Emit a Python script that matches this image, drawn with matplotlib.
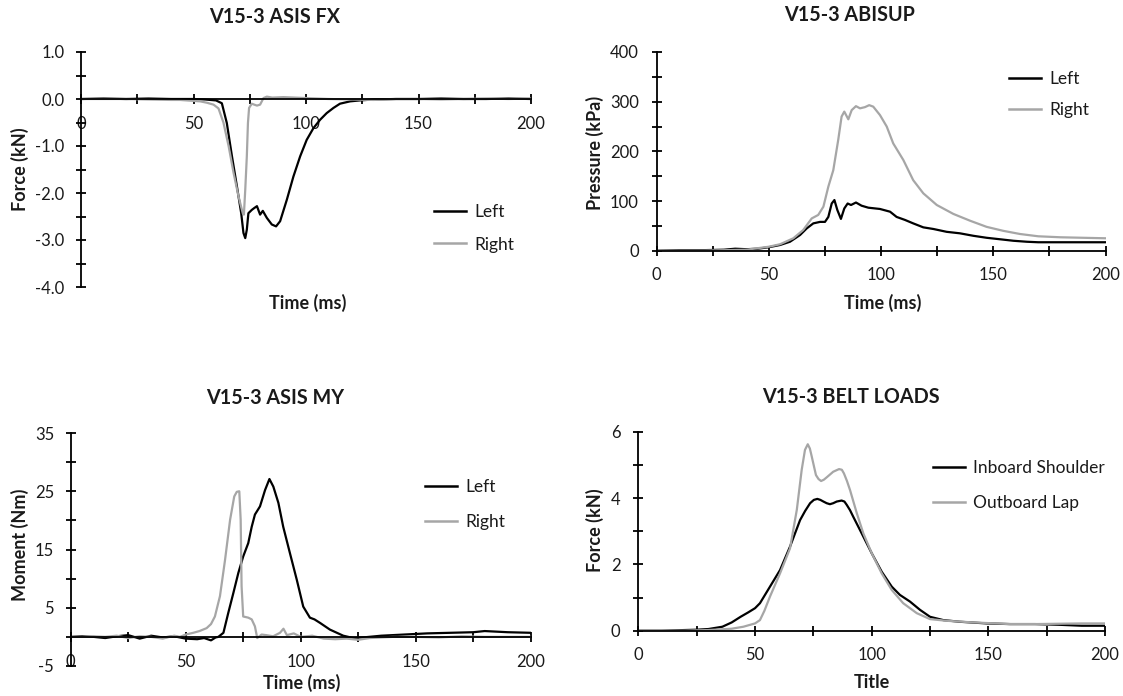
import matplotlib
matplotlib.use("Agg")
import matplotlib.pyplot as plt
from matplotlib.lines import Line2D

plt.rcParams['font.family'] = ['Lato', 'DejaVu Sans']

W, H = 1123, 696
BLACK = "#000000"
GRAY = "#A6A6A6"

# ---------------- data ----------------
# ASIS FX (kN)
fx_left_t = [0, 10, 20, 30, 40, 50, 55, 60, 62.6, 64.8, 67.1, 69.3, 71.2, 72.2, 73, 73.7, 74.4, 75.9, 77,
             78.2, 79.6, 80.8, 82.6, 84.8, 86.7, 88.5, 91.5, 94.4, 97.4, 100.3, 103.3, 106.3, 109.2, 112.2,
             115.1, 119.6, 124, 130, 140, 150, 160, 170, 180, 190, 200]
fx_left = [0, 0.01, 0, 0.01, 0, 0, -0.01, -0.03, -0.09, -0.51, -1.22, -1.86, -2.43, -2.85, -2.96, -2.78, -2.43,
           -2.36, -2.32, -2.28, -2.46, -2.38, -2.53, -2.67, -2.71, -2.60, -2.14, -1.65, -1.22, -0.87, -0.62,
           -0.44, -0.30, -0.19, -0.10, -0.05, -0.03, -0.01, 0, 0, 0.01, 0, 0, 0.01, 0]
fx_right_t = [0, 10, 20, 30, 40, 44, 50, 53, 56, 58.9, 61.1, 63.3, 65.6, 67.8, 70, 71.9, 72.4, 73, 73.7, 74.2,
              74.7, 75.9, 77, 78.2, 79.6, 81.1, 82.6, 85, 90, 95, 100, 110, 120, 130, 140, 150, 160, 170,
              180, 190, 200]
fx_right = [0, 0, 0, -0.01, -0.02, -0.02, -0.04, -0.05, -0.08, -0.12, -0.2, -0.5, -1.0, -1.57, -2.07, -2.43,
            -2.46, -1.93, -1.22, -0.51, -0.19, -0.1, -0.12, -0.14, -0.12, 0.02, 0.05, 0.03, 0.04, 0.03, 0.02,
            0, -0.01, -0.02, 0, 0, -0.01, 0, 0.01, 0, 0.01]

# ABISUP pressure (kPa)
ab_left_t = [0, 10, 20, 30, 35, 40, 45, 50, 55, 59.4, 63.9, 66.9, 69.8, 72.8, 75, 76.5, 78, 79.2, 80.5, 82.1,
             83.6, 85.1, 86.6, 88.8, 91.3, 94.3, 99.5, 104, 106.9, 110.6, 114.3, 118.8, 123.3, 129.2, 135.1,
             141.1, 147, 153, 158.9, 165, 170, 180, 190, 200]
ab_left = [0, 1, 1, 2, 4, 3, 4, 7, 11.5, 18, 31.6, 45, 55, 58, 58, 68, 95, 102, 82, 64, 85, 95, 92, 97, 90.6,
           86.6, 84, 78.5, 68, 62, 55, 47, 43.7, 38, 35, 30, 26, 23, 20, 18, 17, 17, 17, 17]
ab_right_t = [0, 10, 20, 30, 40, 50, 55, 60.9, 65.3, 69.1, 72, 74.3, 76.5, 78.7, 80.9, 82.4, 83.6, 85.4, 86.9,
              88.8, 90.6, 92.8, 94.7, 96.5, 99.5, 102.5, 105.4, 109.9, 114.3, 118.8, 124.8, 132.2, 139.6, 147,
              154.4, 161.9, 170, 180, 190, 200]
ab_right = [0, 0, 0, 1, 2, 8, 13, 25, 41.6, 65, 72, 88.6, 129, 162, 223, 270, 280, 264.5, 283, 291, 286.6, 289,
            293, 290, 273, 250, 216, 182.6, 142, 115.5, 92, 74, 60.4, 48, 40, 33.6, 29, 27, 26, 25]

# ASIS MY moment (Nm)
my_left_t = [0, 5, 10, 15, 20, 25, 30, 35, 40, 45, 50, 55, 58, 61, 63, 64.2, 66.4, 68.5, 70.7, 72.9, 75, 77.2,
             78.7, 80.1, 82.3, 84.5, 86.4, 88.1, 90.3, 92.4, 95.3, 98.3, 101.1, 104, 106, 108.4, 112.7, 118.5,
             122.9, 127, 135, 145, 155, 165, 175, 180, 190, 200]
my_left = [0, 0.1, 0, -0.2, 0.1, 0.3, -0.3, 0.2, -0.1, 0.1, -0.3, -0.4, -0.2, -0.6, -0.1, 0, 0.7, 4.1, 7.5, 11,
           13.8, 16.1, 18.9, 21, 22.4, 25.2, 27.1, 25.8, 23, 18.9, 14.4, 9.8, 5.2, 3.3, 3.0, 2.4, 1.25, 0.2,
           -0.2, -0.1, 0.2, 0.4, 0.6, 0.7, 0.8, 1.0, 0.8, 0.7]
my_right_t = [0, 5, 10, 15, 20, 25, 30, 35, 40, 45, 47.5, 50, 53.3, 56, 59.1, 61, 62.7, 64.9, 67.1, 69.3, 71.1,
              72.2, 73.3, 73.9, 74.3, 75, 77.2, 78.7, 80.1, 81.1, 83, 85, 88, 91, 92.5, 94, 97, 100, 105, 110,
              115, 120, 125, 130, 140, 150, 160, 170, 180, 190, 200]
my_right = [0, 0, 0.1, 0, 0.2, -0.2, 0.1, 0, -0.3, 0.2, 0, 0.4, 0.7, 1.0, 1.5, 2.2, 3.5, 7, 13.2, 20.1, 24.1,
            24.9, 25, 20.1, 8.7, 3.5, 3.3, 3.0, 1.8, -0.2, 0.4, 0.3, 0.1, 0.7, 1.4, 0.3, 0.6, 0, 0.2, -0.3,
            -0.4, -0.3, -0.5, -0.2, 0, 0, -0.1, 0.1, 0, 0, 0]

# Belt loads (kN)
belt_in_t = [0, 10, 20, 25, 30, 36, 40, 43.8, 47, 50, 52.1, 56.4, 60.7, 65, 67.2, 69.3, 71.5, 73.6, 75.2, 76.7,
             78, 79.3, 80.7, 82.1, 83.5, 85, 87.1, 88.3, 89.3, 90.7, 92.1, 95.7, 100, 104.3, 108.6, 112.1, 116.4,
             120.7, 125, 130.7, 137.8, 149.3, 159.3, 170, 180, 190, 200]
belt_in = [0, 0, 0.02, 0.03, 0.05, 0.12, 0.25, 0.42, 0.55, 0.68, 0.83, 1.33, 1.83, 2.54, 2.95, 3.34, 3.62, 3.85,
           3.95, 3.98, 3.95, 3.90, 3.85, 3.82, 3.85, 3.90, 3.93, 3.90, 3.80, 3.64, 3.44, 2.94, 2.34, 1.78, 1.33,
           1.08, 0.88, 0.63, 0.42, 0.32, 0.27, 0.22, 0.2, 0.2, 0.18, 0.15, 0.15]
belt_out_t = [0, 10, 20, 30, 40, 45, 50, 52.1, 54, 56.4, 60.7, 65, 67.9, 70, 71.4, 72.6, 73.5, 74.3, 75.2, 76.1,
              77.2, 78.3, 79.5, 80.7, 83.5, 86, 87.2, 88.1, 89.4, 90.7, 93.6, 96.4, 100, 104.3, 108.6, 113.5,
              119.3, 125, 132, 143.5, 159.3, 170, 180, 190, 200]
belt_out = [0, 0, 0, 0.02, 0.06, 0.12, 0.22, 0.32, 0.6, 1.03, 1.73, 2.49, 3.65, 4.86, 5.46, 5.63, 5.5, 5.26,
            4.98, 4.70, 4.58, 4.52, 4.56, 4.63, 4.80, 4.88, 4.86, 4.75, 4.52, 4.25, 3.55, 2.94, 2.34, 1.73,
            1.23, 0.83, 0.53, 0.35, 0.30, 0.25, 0.2, 0.2, 0.21, 0.22, 0.22]

x_major = [0, 50, 100, 150, 200]
x_minor = [25, 75, 125, 175]

# ---------------- figure ----------------
fig = plt.figure(figsize=(W / 100, H / 100), dpi=100)


def px_axes(x0, x1, ytop, ybot):
    return fig.add_axes([x0 / W, 1 - ybot / H, (x1 - x0) / W, (ybot - ytop) / H])


def ftext(x, y, s, **kw):
    fig.text(x / W, 1 - y / H, s, ha='center', va='center', **kw)


def style(ax, ylim, ymaj, ymin, yfmt, ypad=8.5):
    ax.set_xlim(0, 200)
    ax.set_ylim(*ylim)
    for s in ('top', 'right'):
        ax.spines[s].set_visible(False)
    ax.spines['bottom'].set_position(('data', 0))
    for s in ('left', 'bottom'):
        ax.spines[s].set_linewidth(1.3)
        ax.spines[s].set_color(BLACK)
    ax.set_xticks(x_major)
    ax.set_xticks(x_minor, minor=True)
    ax.set_xticklabels([str(v) for v in x_major])
    ax.set_yticks(ymaj)
    ax.set_yticks(ymin, minor=True)
    ax.set_yticklabels([yfmt.format(v) for v in ymaj])
    ax.tick_params(axis='both', which='both', direction='inout', length=7, width=1.3, colors=BLACK,
                   labelsize=12, labelcolor='#1a1a1a')
    ax.tick_params(axis='x', which='major', pad=8.5)
    ax.tick_params(axis='y', which='major', pad=ypad)
    ax.patch.set_visible(False)


def legend(ax, labels, x, ycenter, spacing):
    handles = [Line2D([], [], color=BLACK, lw=1.8), Line2D([], [], color=GRAY, lw=1.8)]
    ax.legend(handles, labels, loc='center left', bbox_to_anchor=(x / W, 1 - ycenter / H),
              bbox_transform=fig.transFigure, frameon=False, fontsize=12.5, handlelength=1.85,
              handletextpad=0.45, borderpad=0, borderaxespad=0, labelspacing=spacing,
              labelcolor='#1a1a1a')


LW = 1.6
TITLE = dict(fontsize=14.2, fontweight='bold', color='#1a1a1a')
ALAB = dict(fontsize=13, fontweight='bold', color='#1a1a1a')

# ASIS FX
ax1 = px_axes(81, 531, 52, 287)
ax1.plot(fx_left_t, fx_left, color=BLACK, lw=LW)
ax1.plot(fx_right_t, fx_right, color=GRAY, lw=LW)
style(ax1, (-4, 1), [1, 0, -1, -2, -3, -4], [0.5, -0.5, -1.5, -2.5, -3.5], "{:.1f}")
legend(ax1, ["Left", "Right"], 434, 228.5, 0.93)
ftext(275, 17, "V15-3 ASIS FX", **TITLE)
ftext(20, 169, "Force (kN)", rotation=90, **ALAB)
ftext(308, 303, "Time (ms)", **ALAB)

# ABISUP
ax2 = px_axes(656.6, 1105.6, 52, 250.7)
ax2.plot(ab_left_t, ab_left, color=BLACK, lw=LW)
ax2.plot(ab_right_t, ab_right, color=GRAY, lw=LW)
style(ax2, (0, 400), [0, 100, 200, 300, 400], [50, 150, 250, 350], "{:d}", ypad=9.2)
legend(ax2, ["Left", "Right"], 1009, 94.5, 0.83)
ftext(850, 15, "V15-3 ABISUP", **TITLE)
ftext(595, 153, "Pressure (kPa)", rotation=90, **ALAB)
ftext(883, 303, "Time (ms)", **ALAB)

# ASIS MY
ax3 = px_axes(70.7, 530.7, 433, 666)
ax3.plot(my_left_t, my_left, color=BLACK, lw=LW)
ax3.plot(my_right_t, my_right, color=GRAY, lw=LW)
style(ax3, (-5, 35), [35, 25, 15, 5, -5], [30, 20, 10, 0], "{:d}")
legend(ax3, ["Left", "Right"], 425, 504.5, 1.12)
ftext(275, 398, "V15-3 ASIS MY", **TITLE)
ftext(20, 545, "Moment (Nm)", rotation=90, **ALAB)
ftext(302, 683, "Time (ms)", **ALAB)

# BELT LOADS
ax4 = px_axes(638.4, 1105, 432, 630.7)
ax4.plot(belt_in_t, belt_in, color=BLACK, lw=LW)
ax4.plot(belt_out_t, belt_out, color=GRAY, lw=LW)
style(ax4, (0, 6), [0, 2, 4, 6], [1, 3, 5], "{:d}", ypad=9.5)
legend(ax4, ["Inboard Shoulder", "Outboard Lap"], 933, 485.5, 1.13)
ftext(851, 397, "V15-3 BELT LOADS", **TITLE)
ftext(595, 530, "Force (kN)", rotation=90, **ALAB)
ftext(872, 683, "Title", **ALAB)

fig.savefig("out.png", dpi=100)
